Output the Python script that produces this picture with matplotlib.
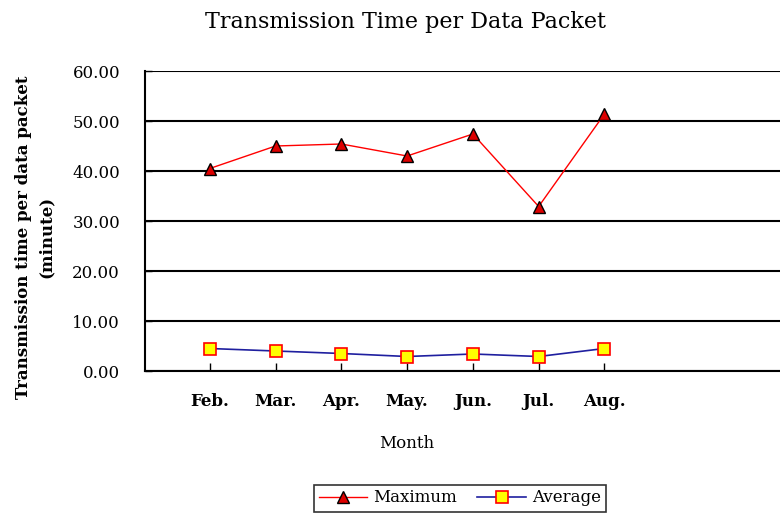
import matplotlib.pyplot as plt

# data
months = ['Feb.', 'Mar.', 'Apr.', 'May.', 'Jun.', 'Jul.', 'Aug.']
maximum = [40.5, 45.0, 45.4, 43.0, 47.4, 32.9, 51.4]
average = [4.5, 4.0, 3.5, 2.9, 3.4, 2.9, 4.5]
yticks = [0, 10, 20, 30, 40, 50, 60]

plt.rcParams['font.family'] = ['DejaVu Serif']

fig = plt.figure(figsize=(7.8, 5.15), dpi=100)
ax = fig.add_axes([145 / 780, 1 - 371 / 515, 1 - 145 / 780 + 0.01, 300 / 515])

x = list(range(len(months)))
ax.plot(x, maximum, color='red', lw=1, marker='^', ms=9,
        mfc='#dd0000', mec='black', mew=1, label='Maximum')
ax.plot(x, average, color='#1f1f9f', lw=1.2, marker='s', ms=8,
        mfc='yellow', mec='red', mew=1.2, label='Average')

ax.set_ylim(0, 60)
ax.set_xlim(-0.985, -0.985 + 645 / 66)
ax.set_yticks(yticks)
ax.set_yticklabels([f'{v:.2f}' for v in yticks], fontsize=12)
ax.set_xticks(x)
ax.set_xticklabels(months, fontsize=12, fontweight='bold')
ax.tick_params(axis='x', direction='in', length=6, width=1, pad=16)
ax.tick_params(axis='y', direction='in', length=5, width=1, pad=18)
ax.grid(axis='y', color='black', lw=1.5)
ax.set_axisbelow(True)
for s in ['top', 'right']:
    ax.spines[s].set_visible(False)
for s in ['left', 'bottom']:
    ax.spines[s].set_linewidth(1.5)

ax.set_ylabel('Transmission time per data packet\n(minute)', fontsize=12,
              fontweight='bold', linespacing=1.4)
ax.yaxis.set_label_coords(-(145 - 54) / 645, (371 - 237) / 300)
fig.text(407 / 780, 1 - 443 / 515, 'Month', ha='center', va='center', fontsize=12)
fig.text(405 / 780, 1 - 22 / 515, 'Transmission Time per Data Packet',
         ha='center', va='center', fontsize=16)

leg = fig.legend(loc='center', bbox_to_anchor=(460 / 780, 1 - 498 / 515),
                 ncol=2, frameon=True, fancybox=False, edgecolor='black',
                 fontsize=12, handlelength=2.9, columnspacing=1.2,
                 borderpad=0.3, handletextpad=0.4)
leg.get_frame().set_linewidth(1.2)

fig.savefig('out.png', dpi=100)
